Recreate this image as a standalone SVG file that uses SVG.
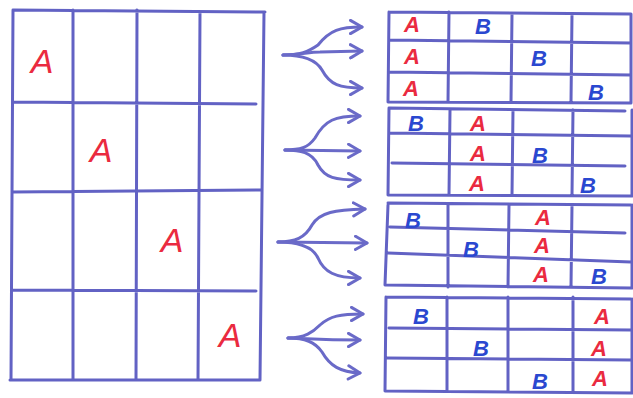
<svg xmlns="http://www.w3.org/2000/svg" width="633" height="398" viewBox="0 0 633 398">
<style>
.g{stroke:#6262c4;stroke-width:3;fill:none;stroke-linecap:round}
.c{stroke:#6a6ac8;stroke-width:3;fill:none;stroke-linecap:round}
.A{fill:#ea2a40;font-family:"Liberation Sans",sans-serif;font-style:italic;text-anchor:middle}
.B{fill:#2a48d0;font-family:"Liberation Sans",sans-serif;font-style:italic;font-weight:bold;text-anchor:middle}
.big{font-size:34px}
.sm{font-size:22px}
.A.sm{font-weight:bold}
</style>
<defs>
<marker id="ah" viewBox="0 0 10 10" refX="8" refY="5" markerWidth="5.5" markerHeight="5.5" orient="auto" markerUnits="strokeWidth">
<path d="M1,1 L8,5 L1,9" fill="none" stroke="#6a6ac8" stroke-width="1.8" stroke-linecap="round" stroke-linejoin="round"/>
</marker>
</defs>
<rect width="633" height="398" fill="#fff"/>
<g id="left-grid">
<path class="g" d="M13,10 L265,12 M13,102 L256,104 M12,192 L260,190 M12,290 L256,291 M10,380 L260,380 M13,10 L11,380 M73,10 L73,380 M137,10 L136,380 M200,12 L198,380 M264,12 L260,380"/>
<text class="A big" x="42" y="73">A</text>
<text class="A big" x="101" y="162">A</text>
<text class="A big" x="172" y="252">A</text>
<text class="A big" x="230" y="347">A</text>
</g>
<g id="grid-1">
<path class="g" d="M389,12 L631,14 M389,40 L631,43 M389,72 L631,75 M389,102 L631,103 M389,12 L388,102 M449,12 L448,102 M512,14 L511,102 M572,14 L571,102 M631,14 L631,103"/>
<text class="A sm" x="412" y="32">A</text>
<text class="A sm" x="412" y="64">A</text>
<text class="A sm" x="411" y="96">A</text>
<text class="B sm" x="483" y="34">B</text>
<text class="B sm" x="539" y="66">B</text>
<text class="B sm" x="596" y="100">B</text>
</g>
<g id="grid-2">
<path class="g" d="M389,108 L625,111 M389,133 L631,136 M392,163 L625,166 M388,195 L631,196 M389,108 L388,195 M450,110 L449,195 M513,110 L512,195 M573,110 L572,195 M632,110 L632,196"/>
<text class="B sm" x="416" y="131">B</text>
<text class="A sm" x="478" y="131">A</text>
<text class="A sm" x="478" y="161">A</text>
<text class="A sm" x="477" y="191">A</text>
<text class="B sm" x="540" y="163">B</text>
<text class="B sm" x="588" y="193">B</text>
</g>
<g id="grid-3">
<path class="g" d="M388,203 L631,205 M390,227 L625,233 M388,253 L631,262 M386,285 L631,288 M388,205 L385,285 M448,205 L448,287 M509,205 L508,287 M572,205 L571,287 M632,205 L632,288"/>
<text class="B sm" x="413" y="228">B</text>
<text class="B sm" x="471" y="257">B</text>
<text class="A sm" x="543" y="225">A</text>
<text class="A sm" x="542" y="253">A</text>
<text class="A sm" x="541" y="282">A</text>
<text class="B sm" x="599" y="284">B</text>
</g>
<g id="grid-4">
<path class="g" d="M386,297 L631,299 M389,328 L631,330 M387,358 L631,360 M385,391 L631,393 M386,297 L385,391 M447,297 L447,391 M508,297 L508,391 M573,297 L573,391 M632,299 L632,393"/>
<text class="B sm" x="421" y="324">B</text>
<text class="B sm" x="481" y="356">B</text>
<text class="B sm" x="540" y="389">B</text>
<text class="A sm" x="602" y="324">A</text>
<text class="A sm" x="599" y="356">A</text>
<text class="A sm" x="600" y="386">A</text>
</g>
<g id="connectors">
<path class="c" marker-end="url(#ah)" d="M283,55 C300,55 308,52 318,45 C330,30 340,27 362,27"/>
<path class="c" marker-end="url(#ah)" d="M283,55 C300,55 308,52 320,52 L362,51"/>
<path class="c" marker-end="url(#ah)" d="M283,55 C300,55 315,58 322,70 C330,85 340,88 362,88"/>
<path class="c" marker-end="url(#ah)" d="M285,150 C300,150 308,148 315,138 C325,120 335,116 360,116"/>
<path class="c" marker-end="url(#ah)" d="M285,150 L360,151"/>
<path class="c" marker-end="url(#ah)" d="M285,150 C300,150 312,152 318,165 C325,178 335,180 360,180"/>
<path class="c" marker-end="url(#ah)" d="M278,242 C295,242 305,238 312,225 C320,212 335,210 365,209"/>
<path class="c" marker-end="url(#ah)" d="M278,242 L367,243"/>
<path class="c" marker-end="url(#ah)" d="M278,242 C295,242 312,245 318,258 C324,272 335,278 360,278"/>
<path class="c" marker-end="url(#ah)" d="M288,338 C305,338 313,332 320,325 C330,316 340,314 363,314"/>
<path class="c" marker-end="url(#ah)" d="M288,338 C305,338 315,340 360,340"/>
<path class="c" marker-end="url(#ah)" d="M288,338 C305,338 315,342 322,352 C330,366 340,372 360,373"/>
</g>
</svg>
